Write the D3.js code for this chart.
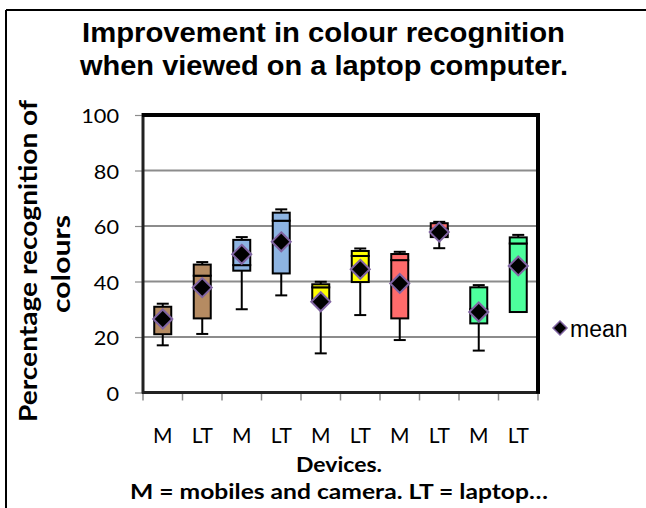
<!DOCTYPE html>
<html><head><meta charset="utf-8">
<script src="https://cdn.jsdelivr.net/npm/d3@7/dist/d3.min.js"></script>
<style>body{margin:0;background:#fff}svg{display:block}</style>
</head><body>
<svg id="c" width="646" height="508"></svg>
<script>
const categories = ["M","LT","M","LT","M","LT","M","LT","M","LT"];
const minVals    = [17.0, 21.1, 30.0, 35.0, 14.1, 27.9, 18.9, 52.0, 15.1, 29.0];
const q1Vals     = [21.0, 26.7, 43.9, 42.9, 33.0, 39.8, 26.7, 56.0, 24.9, 29.0];
const medianVals = [26.0, 42.1, 45.9, 61.9, 37.9, 49.2, 47.7, 59.0, 30.0, 53.7];
const q3Vals     = [30.9, 46.1, 55.0, 64.8, 39.0, 51.0, 49.9, 61.0, 37.9, 55.9];
const maxVals    = [32.0, 47.0, 56.0, 66.0, 39.9, 51.9, 50.7, 61.5, 38.7, 56.8];
const meanVals   = [26.5, 37.8, 49.8, 54.3, 32.7, 44.4, 39.3, 57.8, 29.0, 45.6];
const yTicks     = [0, 20, 40, 60, 80, 100];
const boxColors  = ["#B58B62","#B58B62","#8DB4E2","#8DB4E2","#FFFF00","#FFFF00","#FF6B6B","#FF6B6B","#4DFF9C","#4DFF9C"];

(function(){
const svg = d3.select("#c");
const W = 646, H = 508;
const pL = 143, pR = 538, pT = 115, pB = 392.5;
const sans = "Lato, 'Open Sans', sans-serif";
const arial = "'Liberation Sans', Arial, sans-serif";

// outer frame (top and left edges)
svg.append("line").attr("x1",6).attr("x2",W).attr("y1",10).attr("y2",10).attr("stroke","#000").attr("stroke-width",2);
svg.append("line").attr("x1",6).attr("x2",6).attr("y1",10).attr("y2",H).attr("stroke","#000").attr("stroke-width",2);

const x = d3.scaleBand().domain(d3.range(categories.length)).range([pL, pR]).padding(0);
const y = d3.scaleLinear().domain([0,100]).range([pB, pT]);

// gridlines
svg.append("g").selectAll("line").data(yTicks.filter(d=>d>0 && d<100)).join("line")
  .attr("x1",pL).attr("x2",pR).attr("y1",d=>y(d)).attr("y2",d=>y(d))
  .attr("stroke","#8c8c8c").attr("stroke-width",2);

// y axis
const yAxis = d3.axisLeft(y).tickValues(yTicks).tickSize(7).tickPadding(16).tickFormat(d3.format("d"));
const gy = svg.append("g").attr("transform",`translate(${pL-1},0)`).call(yAxis);
gy.select(".domain").remove();
gy.selectAll(".tick line").attr("stroke","#8c8c8c").attr("stroke-width",1.2);
gy.selectAll(".tick text").attr("font-family",sans).attr("font-size",19).attr("fill","#000")
  .attr("dy","0.42em").attr("textLength",d=>String(d).length*12.6).attr("lengthAdjust","spacingAndGlyphs");

// x axis
const xAxis = d3.axisBottom(x).tickFormat(i=>categories[i]).tickSize(0).tickPadding(36);
const gx = svg.append("g").attr("transform",`translate(0,${pB})`).call(xAxis);
gx.select(".domain").remove();
gx.selectAll(".tick text").attr("font-family",sans).attr("font-size",21).attr("fill","#000");
// x boundary ticks
svg.append("g").selectAll("line").data(d3.range(categories.length+1)).join("line")
  .attr("x1",i=>pL + i*x.step()).attr("x2",i=>pL + i*x.step())
  .attr("y1",pB).attr("y2",pB+8).attr("stroke","#8c8c8c").attr("stroke-width",1.5);

// plot frame
svg.append("line").attr("x1",pL-1).attr("x2",pR+2).attr("y1",pB).attr("y2",pB).attr("stroke","#222").attr("stroke-width",3);
svg.append("line").attr("x1",pL).attr("x2",pL).attr("y1",pT-2).attr("y2",pB+1).attr("stroke","#222").attr("stroke-width",3);
svg.append("line").attr("x1",pL-1).attr("x2",pR+2).attr("y1",pT).attr("y2",pT).attr("stroke","#000").attr("stroke-width",4);
svg.append("line").attr("x1",pR).attr("x2",pR).attr("y1",pT-2).attr("y2",pB+1).attr("stroke","#000").attr("stroke-width",4);

// boxes
const bw = 17, capW = 12;
const g = svg.append("g");
categories.forEach((c,i)=>{
  const cx = x(i) + x.bandwidth()/2;
  const gg = g.append("g");
  gg.append("line").attr("x1",cx).attr("x2",cx).attr("y1",y(q3Vals[i])).attr("y2",y(maxVals[i])).attr("stroke","#000").attr("stroke-width",2);
  gg.append("line").attr("x1",cx).attr("x2",cx).attr("y1",y(q1Vals[i])).attr("y2",y(minVals[i])).attr("stroke","#000").attr("stroke-width",2);
  gg.append("line").attr("x1",cx-capW/2).attr("x2",cx+capW/2).attr("y1",y(maxVals[i])).attr("y2",y(maxVals[i])).attr("stroke","#000").attr("stroke-width",2);
  if (minVals[i] < q1Vals[i])
    gg.append("line").attr("x1",cx-capW/2).attr("x2",cx+capW/2).attr("y1",y(minVals[i])).attr("y2",y(minVals[i])).attr("stroke","#000").attr("stroke-width",2);
  gg.append("rect").attr("x",cx-bw/2).attr("width",bw).attr("y",y(medianVals[i])).attr("height",y(q1Vals[i])-y(medianVals[i]))
    .attr("fill",boxColors[i]).attr("stroke","#000").attr("stroke-width",2);
  gg.append("rect").attr("x",cx-bw/2).attr("width",bw).attr("y",y(q3Vals[i])).attr("height",y(medianVals[i])-y(q3Vals[i]))
    .attr("fill",boxColors[i]).attr("stroke","#000").attr("stroke-width",2);
});
// means (diamonds)
const diamond = r => `M0,${-r}L${r},0L0,${r}L${-r},0Z`;
g.selectAll("path.mean").data(meanVals).join("path").attr("class","mean")
  .attr("d",diamond(9.5)).attr("transform",(d,i)=>`translate(${x(i)+x.bandwidth()/2},${y(d)})`)
  .attr("fill","#000").attr("stroke","#8064A2").attr("stroke-width",2);

// legend
svg.append("path").attr("d",diamond(7)).attr("transform","translate(560,328)")
  .attr("fill","#000").attr("stroke","#8064A2").attr("stroke-width",1.5);
svg.append("text").attr("x",570).attr("y",336.5).attr("font-family",arial).attr("font-size",23).text("mean");

// title
const title = svg.append("text").attr("text-anchor","middle").attr("font-family",arial)
  .attr("font-weight","bold").attr("font-size",28);
title.append("tspan").attr("x",323.5).attr("y",42).attr("textLength",483).attr("lengthAdjust","spacingAndGlyphs").text("Improvement in colour recognition");
title.append("tspan").attr("x",324).attr("y",75).attr("textLength",488).attr("lengthAdjust","spacingAndGlyphs").text("when viewed on a laptop computer.");

// y axis title
svg.append("text").attr("transform","translate(37,261) rotate(-90)").attr("text-anchor","middle")
  .attr("font-family",sans).attr("font-weight","bold").attr("font-size",24)
  .attr("textLength",322).attr("lengthAdjust","spacingAndGlyphs").text("Percentage recognition of");
svg.append("text").attr("transform","translate(70,264) rotate(-90)").attr("text-anchor","middle")
  .attr("font-family",sans).attr("font-weight","bold").attr("font-size",24)
  .attr("textLength",98).attr("lengthAdjust","spacingAndGlyphs").text("colours");

// x titles
svg.append("text").attr("x",339).attr("y",472).attr("text-anchor","middle")
  .attr("font-family",sans).attr("font-weight","bold").attr("font-size",21)
  .attr("textLength",86).attr("lengthAdjust","spacingAndGlyphs").text("Devices.");
svg.append("text").attr("x",339).attr("y",499).attr("text-anchor","middle")
  .attr("font-family",sans).attr("font-weight","bold").attr("font-size",21)
  .attr("textLength",418).attr("lengthAdjust","spacingAndGlyphs").text("M = mobiles and camera.  LT = laptop…");
})();
</script>
</body></html>
